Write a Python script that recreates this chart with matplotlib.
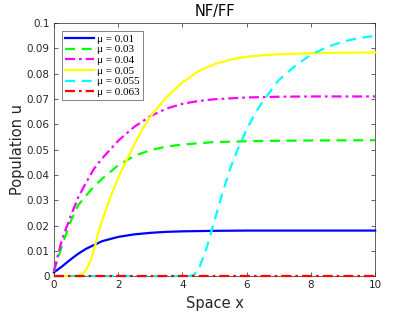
import matplotlib
matplotlib.use('Agg')
import matplotlib.pyplot as plt

plt.rcParams['font.family'] = ['DejaVu Sans']

# curve data
x_blue = [0, 0.25, 0.5, 0.75, 1, 1.5, 2, 2.5, 3, 3.5, 4, 5, 6, 7, 8, 10]
y_blue = [0.0015, 0.0038, 0.0064, 0.0088, 0.0108, 0.0138, 0.0155, 0.0165, 0.0171,
          0.0175, 0.0177, 0.0179, 0.018, 0.018, 0.018, 0.018]

x_green = [0, 0.1, 0.25, 0.5, 0.75, 1, 1.25, 1.5, 2, 2.5, 3, 3.5, 4, 5, 6, 7, 8, 10]
y_green = [0.0018, 0.006, 0.012, 0.021, 0.028, 0.0318, 0.0355, 0.0385, 0.0438, 0.0475,
           0.0498, 0.0512, 0.052, 0.053, 0.0533, 0.0535, 0.0536, 0.0537]

x_magenta = [0, 0.1, 0.25, 0.5, 0.75, 1, 1.25, 1.5, 2, 2.5, 3, 3.5, 4, 4.5, 5, 6, 7, 8, 10]
y_magenta = [0.002, 0.007, 0.0145, 0.023, 0.031, 0.037, 0.0425, 0.0465, 0.0535, 0.059,
             0.0632, 0.0662, 0.0681, 0.0692, 0.0699, 0.0706, 0.0709, 0.071, 0.071]

x_yellow = [0, 0.5, 0.8, 0.9, 1.0, 1.1, 1.2, 1.3, 1.4, 1.5, 1.75, 2, 2.25, 2.5, 2.75,
            3, 3.5, 4, 4.5, 5, 5.5, 6, 6.5, 7, 8, 9, 10]
y_yellow = [0, 0, 0.0003, 0.001, 0.0025, 0.005, 0.0085, 0.013, 0.018, 0.022, 0.031,
            0.0388, 0.0455, 0.052, 0.058, 0.063, 0.0707, 0.0765, 0.081, 0.0838,
            0.0856, 0.0867, 0.0873, 0.0877, 0.0881, 0.0883, 0.0884]

x_cyan = [0, 4.2, 4.35, 4.5, 4.75, 5, 5.25, 5.5, 5.75, 6, 6.25, 6.5, 7, 7.5, 8, 8.5,
          9, 9.5, 10]
y_cyan = [0, 0, 0.0005, 0.0025, 0.011, 0.022, 0.033, 0.043, 0.051, 0.058, 0.064,
          0.069, 0.0775, 0.083, 0.0875, 0.0905, 0.0927, 0.0941, 0.095]

x_red = [0, 10]
y_red = [0, 0]

mu_labels = ['0.01', '0.03', '0.04', '0.05', '0.055', '0.063']
x_ticks = [0, 2, 4, 6, 8, 10]
y_ticks = [0, 0.01, 0.02, 0.03, 0.04, 0.05, 0.06, 0.07, 0.08, 0.09, 0.1]
y_ticklabels = ['0', '0.01', '0.02', '0.03', '0.04', '0.05', '0.06', '0.07', '0.08', '0.09', '0.1']

fig = plt.figure(figsize=(4.15, 3.12), dpi=100)
ax = fig.add_axes([0.130, 0.115, 0.774, 0.811])

lw = 1.6
dash = (0, (4.5, 3))
dashdot = (0, (4.5, 1.8, 1.2, 1.8))
series = [(x_blue, y_blue, '#0000ff', '-'),
          (x_green, y_green, '#00ff00', dash),
          (x_magenta, y_magenta, '#ff00ff', dashdot),
          (x_yellow, y_yellow, '#ffff00', '-'),
          (x_cyan, y_cyan, '#00ffff', dash),
          (x_red, y_red, '#ff0000', dashdot)]
for (xs, ys, c, ls), mu in zip(series, mu_labels):
    ax.plot(xs, ys, color=c, lw=lw, ls=ls, label='\u03bc = %s' % mu,
            clip_on=False, zorder=3)

ax.set_xlim(0, 10)
ax.set_ylim(0, 0.1)
ax.set_xticks(x_ticks)
ax.set_xticklabels([str(t) for t in x_ticks])
ax.set_yticks(y_ticks)
ax.set_yticklabels(y_ticklabels)

ax.tick_params(direction='in', top=True, right=True, length=3, width=0.5,
               colors='#262626', labelsize=7.5, pad=3)
for s in ax.spines.values():
    s.set_color('#262626')
    s.set_linewidth(0.5)
    s.set_zorder(1)

ax.set_xlabel('Space x', fontsize=10.5, color='#262626', labelpad=4)
ax.set_ylabel('Population u', fontsize=10.5, color='#262626', labelpad=1)
ax.set_title('NF/FF', fontsize=10.5, color='#000000', pad=5)

leg = ax.legend(loc='upper left', prop={'family': 'Liberation Serif', 'size': 8.0},
                handlelength=2.6, handletextpad=0.3,
                borderpad=0.3, labelspacing=0.08, fancybox=False,
                bbox_to_anchor=(0.024, 0.97), borderaxespad=0)
leg.get_frame().set_edgecolor('#262626')
leg.get_frame().set_linewidth(0.5)
leg.set_zorder(5)

fig.savefig('out.png', dpi=100)
